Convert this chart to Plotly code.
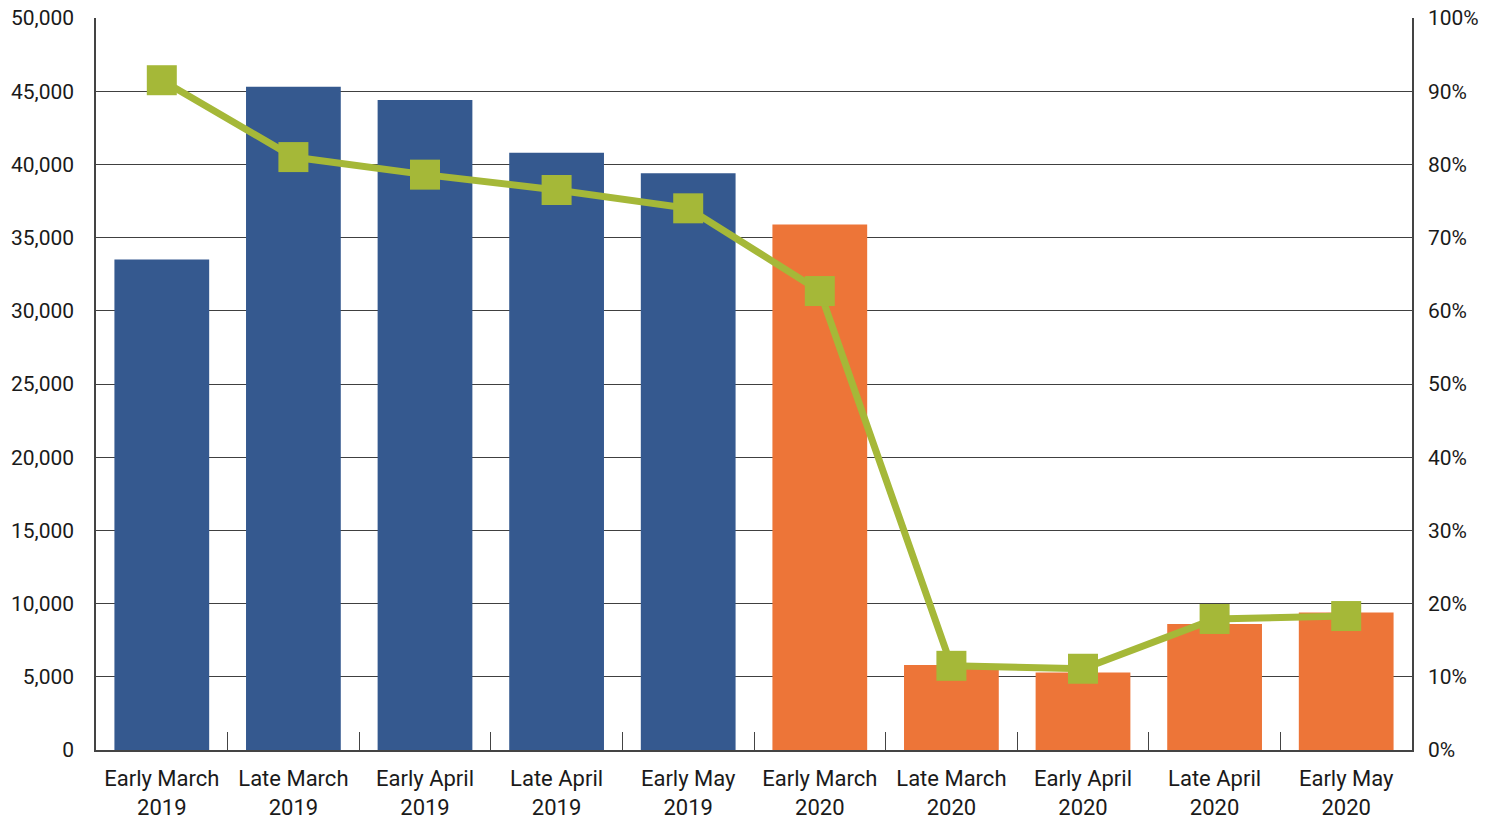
import plotly.graph_objects as go

categories = ["Early March<br>2019", "Late March<br>2019", "Early April<br>2019", "Late April<br>2019",
              "Early May<br>2019", "Early March<br>2020", "Late March<br>2020", "Early April<br>2020",
              "Late April<br>2020", "Early May<br>2020"]
counts = [33500, 45300, 44400, 40800, 39400, 35900, 5800, 5300, 8600, 9400]
share = [0.915, 0.810, 0.786, 0.765, 0.740, 0.627, 0.115, 0.111, 0.179, 0.183]
bar_colors = ["#35598F"] * 5 + ["#ED7538"] * 5

fig = go.Figure()
fig.add_trace(go.Bar(x=categories, y=counts, marker=dict(color=bar_colors, line=dict(width=0)),
                     yaxis="y", showlegend=False))
fig.add_trace(go.Scatter(x=categories, y=share, yaxis="y2", mode="lines+markers",
                         line=dict(color="#A5B838", width=7),
                         marker=dict(symbol="square", size=30, color="#A5B838"),
                         showlegend=False, cliponaxis=False))

xfont = dict(family="Roboto, Arial", size=22, color="#1a1a1a")
yfont = dict(family="Roboto, Arial", size=21, color="#1a1a1a")
fig.update_layout(
    width=1496, height=822,
    margin=dict(l=96, r=84, t=18, b=72),
    paper_bgcolor="white", plot_bgcolor="white",
    bargap=0.28,
    font=xfont,
    xaxis=dict(range=[-0.5, 9.5], showline=True, linecolor="#444", linewidth=1.5, ticks="inside",
               tickson="boundaries", ticklen=18, tickcolor="#444", tickwidth=1, showgrid=False,
               tickfont=xfont, automargin=False, ticklabeloverflow="allow", ticklabelstandoff=8),
    yaxis=dict(range=[0, 50000], dtick=5000, tickformat=",", showgrid=True, gridcolor="#404040",
               gridwidth=1, showline=True, linecolor="#444", linewidth=1.5, zeroline=False,
               ticks="", tickfont=yfont, ticklabelstandoff=16, automargin=False,
               ticklabeloverflow="allow"),
    yaxis2=dict(range=[0, 1], dtick=0.1, tickformat=".0%", overlaying="y", side="right",
                showgrid=False, showline=True, linecolor="#444", linewidth=1.5, zeroline=False,
                ticks="", tickfont=yfont, ticklabelstandoff=10, automargin=False,
                ticklabeloverflow="allow"),
)
fig.write_html("out.html", config={"displayModeBar": False},
               post_script="document.body.style.margin='0';document.body.style.overflow='hidden';")
